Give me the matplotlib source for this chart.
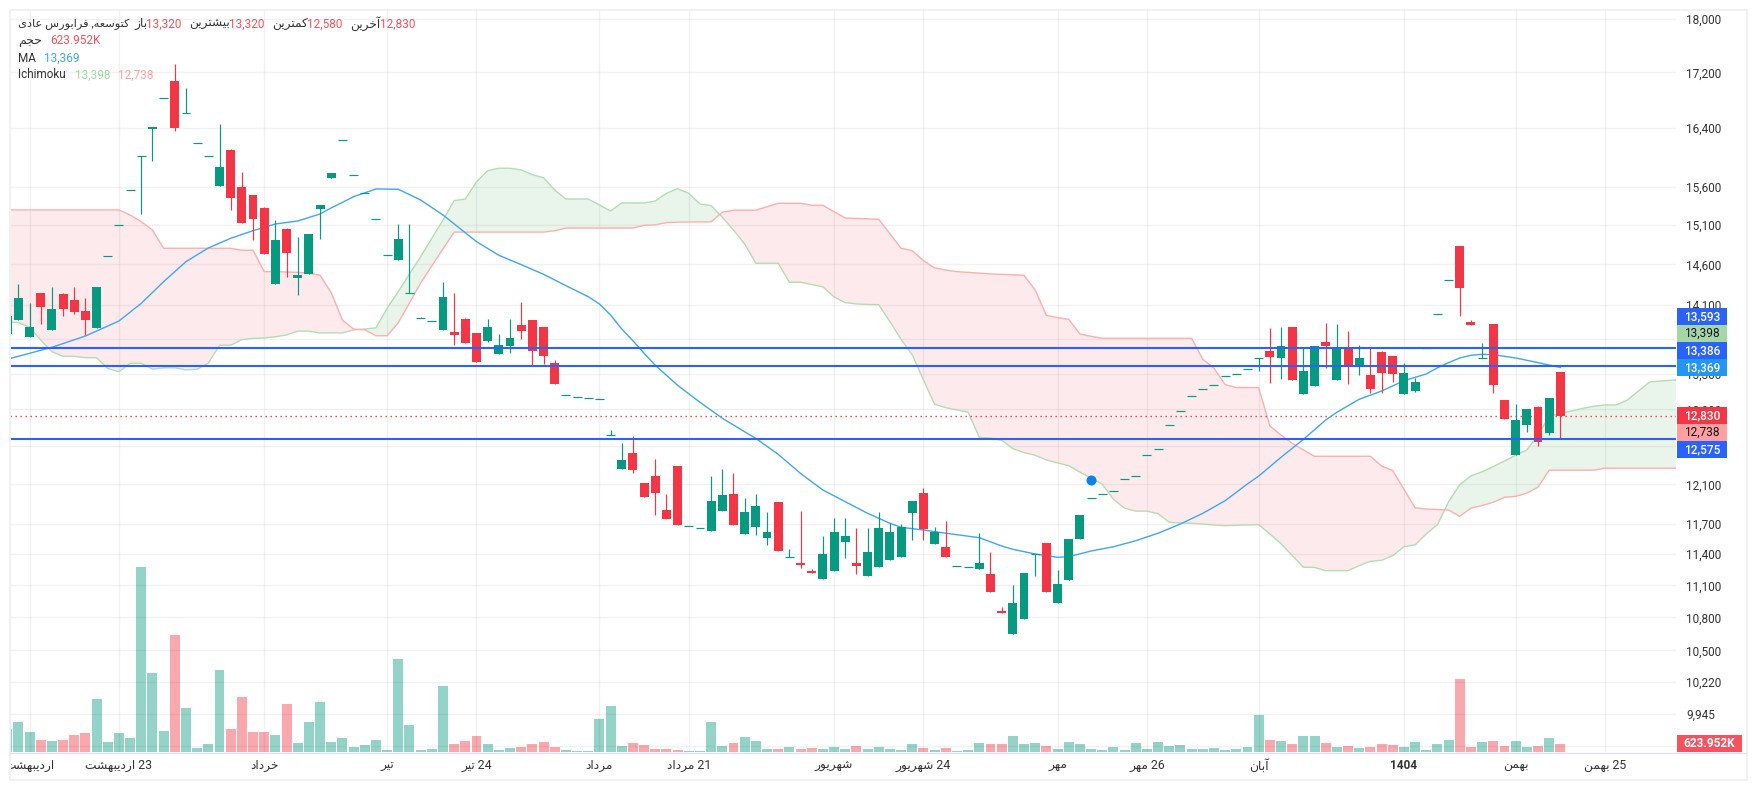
import matplotlib
matplotlib.use("Agg")
import matplotlib.pyplot as plt
from matplotlib.patches import Rectangle
from matplotlib.ticker import NullLocator, FixedLocator
from matplotlib.transforms import Bbox
import numpy as np

plt.rcParams['font.family'] = ['Roboto', 'DejaVu Sans']

# ---------- data ----------
opens = [13757,13922,13721,14247,13804,14235,14162,14029,13827,14701,15095,15553,16010,16388,16823,17072,16610,16188,16010,15610,
16096,15597,15489,15319,14357,15048,14431,14480,15307,15716,16230,15752,15512,15172,14713,14654,14244,13942,13906,13804,
13780,13934,13768,13674,13524,13617,13862,13922,13838,13420,13055,13033,13022,13011,12622,12260,12427,12113,12185,11838,
12292,11674,11654,11624,11828,12000,11597,11668,11557,11919,11375,11313,11236,11160,11236,11518,11313,11189,11275,11343,
11372,11808,12010,11499,11470,11282,11272,11255,11208,10860,10647,10786,11401,11509,10934,11151,11548,11956,11997,12027,
12150,12181,12404,12468,12726,12880,13044,13122,13168,13270,13293,13351,13475,13559,13478,13838,13070,13160,13663,13227,
13582,13386,13283,13547,13501,13070,13104,13593,13992,14402,14829,13898,13478,13875,13003,12407,12729,12926,12644,13320]
highs = [13970,14357,14126,14247,14320,14247,14320,14186,14320,14701,15095,15553,16010,16412,16823,17322,16970,16188,16010,16458,
16110,15798,15489,15332,15163,15060,14944,14982,15359,15783,16230,15752,15512,15172,14713,15112,15112,13955,13906,14382,
14247,13946,13768,13934,13757,13934,14138,13922,13838,13455,13055,13033,13022,13011,12671,12535,12610,12113,12364,12000,
12292,11674,11654,12185,12260,12218,11959,12000,11818,11919,11450,11828,11256,11577,11757,11757,11656,11656,11818,11708,
11698,11929,12062,11668,11727,11282,11272,11606,11421,10895,11104,11218,11401,11509,11246,11548,11788,11956,11997,12027,
12150,12181,12404,12468,12726,12880,13044,13122,13168,13270,13293,13351,13475,13827,13838,13838,13593,13617,13886,13875,
13792,13628,13593,13559,13501,13420,13249,13593,13992,14402,14829,13922,13651,13875,13003,12959,12904,12937,13025,13320]
lows = [13757,13922,13721,13875,13804,13970,13993,13745,13827,14701,15095,15553,15241,15945,16823,16360,16610,16188,16010,15610,
15293,15124,14906,14729,14357,14443,14223,14480,14919,15716,16230,15752,15512,15172,14713,14654,14244,13942,13906,13804,
13628,13651,13432,13663,13524,13535,13698,13386,13409,13182,13055,13033,13022,13011,12622,12260,12218,11969,11788,11747,
11688,11674,11654,11624,11828,11688,11597,11587,11489,11431,11375,11265,11218,11160,11236,11362,11208,11189,11275,11343,
11372,11538,11538,11499,11372,11282,11272,11255,11037,10842,10647,10786,11189,11037,10934,11151,11548,11956,11997,12027,
12150,12181,12404,12468,12726,12880,13044,13122,13168,13270,13293,13351,13328,13193,13238,13227,13070,13160,13362,13227,
13182,13283,13082,13082,13204,13070,13093,13593,13992,14402,13970,13862,13478,13082,12794,12407,12655,12503,12623,12580]
closes = [13970,14186,13838,14077,14053,14053,14017,13922,14320,14701,15095,15553,16010,16412,16823,16402,16610,16188,16010,15864,
15450,15124,15176,14729,14906,14741,14468,14982,15359,15783,16230,15752,15512,15172,14713,14919,14244,13942,13906,14198,
13745,13651,13432,13838,13628,13710,13792,13559,13501,13182,13055,13033,13022,13011,12622,12354,12249,11969,12010,11747,
11688,11674,11654,11929,11990,11688,11818,11878,11616,11431,11375,11294,11218,11401,11616,11577,11285,11421,11656,11616,
11668,11929,11646,11616,11372,11282,11272,11313,11037,10842,10934,11218,11401,11037,11113,11548,11788,11956,11997,12027,
12150,12181,12404,12468,12726,12880,13044,13122,13168,13270,13293,13351,13475,13490,13617,13227,13328,13617,13617,13605,
13386,13478,13126,13305,13293,13305,13204,13593,13992,14402,14308,13862,13478,13171,12794,12783,12904,12545,13025,12830]
volumes_k = [1725,2250,1500,900,825,900,1275,1425,3975,750,1425,1050,13875,5925,1575,8775,3300,300,600,6150,
1725,4125,1500,1500,1275,3600,675,2250,3750,750,1050,375,525,900,150,6975,2025,150,225,4950,
600,825,1200,600,150,300,375,600,750,375,150,75,75,2475,3450,450,675,525,225,225,
150,75,75,2250,450,675,1125,825,225,225,375,225,300,225,375,225,450,225,375,225,
150,600,300,150,300,75,150,675,600,600,1200,600,675,450,225,750,600,225,150,375,
150,675,225,750,450,525,225,225,300,150,225,375,2775,900,825,600,1200,1200,675,375,
450,300,375,600,525,375,750,150,600,900,5475,375,750,825,450,825,375,450,1050,623.952]

ma_index = [0,4,7,10,12,14,16,18,20,22,24,26,28,29,31,33,35,37,39,42,44,46,48,50,52,53,54,55,56,57,58,60,62,64,66,67,69,71,73,75,77,79,80,
82,84,87,89,90,92,94,95,97,99,101,103,105,107,109,111,112,114,116,118,119,121,123,125,127,128,129,130,131,132,133,135,137,139]
ma_values = [13463,13601,13733,13910,14122,14385,14633,14805,14928,15025,15111,15150,15241,15320,15467,15570,15566,15424,15228,14885,14713,14596,14476,14336,14202,14114,13982,13815,13678,13532,13394,13167,12978,12802,12655,12584,12414,12213,12041,11922,11804,11704,11664,
11637,11605,11561,11479,11447,11401,11369,11375,11430,11472,11531,11605,11697,11804,11932,12104,12185,12382,12573,12783,12868,13011,13103,13219,13295,13365,13425,13478,13509,13520,13516,13478,13425,13369]

span_a = [13898,13890,13838,13686,13551,13497,13497,13481,13481,13357,13320,13417,13417,13351,13365,13365,13341,13349,13417,13625,
13625,13690,13706,13710,13725,13745,13790,13790,13769,13769,13769,13804,13815,13830,14062,14264,14480,14695,14928,15163,
15415,15437,15666,15816,15848,15848,15825,15761,15720,15556,15437,15437,15437,15359,15280,15385,15385,15385,15411,15512,
15574,15512,15372,15350,15198,15034,14855,14613,14613,14613,14378,14378,14349,14321,14199,14130,14114,14108,14105,13902,
13694,13513,13227,12956,12918,12893,12868,12595,12587,12563,12474,12432,12404,12354,12323,12295,12226,12166,12101,11946,
11856,11826,11826,11800,11714,11707,11704,11697,11687,11680,11684,11687,11690,11598,11502,11387,11273,11271,11240,11240,
11240,11288,11330,11340,11385,11473,11489,11598,11690,11922,12097,12188,12230,12285,12343,12404,12460,12620,12820,12857,
12882,12910,12934,12948,12948,13003,13103,13205,13216,13224,13233]
span_b = [15294,15294,15294,15294,15294,15294,15294,15294,15294,15294,15294,15228,15141,15034,14801,14801,14801,14801,14801,14801,
14801,14776,14776,14509,14509,14505,14500,14490,14464,14250,13922,13814,13806,13736,13736,13890,14126,14369,14580,14793,
15007,15007,15007,15007,15007,15007,15007,15007,15007,15024,15059,15059,15059,15059,15059,15059,15059,15094,15100,15129,
15135,15137,15138,15139,15264,15290,15290,15290,15335,15381,15381,15381,15355,15355,15270,15189,15183,15177,15172,14985,
14801,14771,14645,14555,14530,14509,14500,14490,14481,14475,14470,14464,14283,13978,13950,13930,13757,13730,13706,13706,
13706,13706,13706,13706,13706,13706,13706,13463,13361,13175,13142,13142,13142,12719,12620,12532,12460,12393,12393,12393,
12393,12393,12393,12291,12243,12050,11860,11847,11842,11837,11774,11856,11883,11916,11966,11976,12009,12070,12247,12247,
12247,12247,12247,12268,12268,12268,12268,12268,12268,12268,12268]

h_levels = [13593, 13386, 12575]
last_close = 12830
marker_index = 97
marker_value = 12148

y_ticks = [18000,17200,16400,15600,15100,14600,14100,13700,13300,12900,12500,12100,11700,11400,11100,10800,10500,10220,9945,9680]
y_hidden = [13700, 12500, 9680]   # fully covered by the price tags in the reference
x_tick_index = [2,10,23,34,42,53,61,74,82,94,102,112,125,135,143]
x_tick_words = ["اردیبهشت","اردیبهشت","خرداد","تیر","تیر","مرداد","مرداد","شهریور","شهریور","مهر","مهر","آبان","1404","بهمن","بهمن"]
x_tick_days = ["","23","","","24","","21","","24","","26","","","","25"]

tag_values = ["13,593","13,398","13,386","13,369","12,830","12,738","12,575"]
tag_colors = ["#2962FF","#A5D6A7","#2962FF","#2196F3","#F23645","#FF9F9F","#2962FF"]
tag_text = ["white","#131722","white","white","white","#131722","white"]

# ---------- Persian shaping (matplotlib has no bidi/joining) ----------
FORMS = {
 'ا':(0xFE8D,0xFE8E,None,None),'آ':(0xFE81,0xFE82,None,None),'د':(0xFEA9,0xFEAA,None,None),
 'ر':(0xFEAD,0xFEAE,None,None),'ز':(0xFEAF,0xFEB0,None,None),'و':(0xFEED,0xFEEE,None,None),
 'ب':(0xFE8F,0xFE90,0xFE91,0xFE92),'ت':(0xFE95,0xFE96,0xFE97,0xFE98),'ج':(0xFE9D,0xFE9E,0xFE9F,0xFEA0),
 'ح':(0xFEA1,0xFEA2,0xFEA3,0xFEA4),'خ':(0xFEA5,0xFEA6,0xFEA7,0xFEA8),'س':(0xFEB1,0xFEB2,0xFEB3,0xFEB4),
 'ش':(0xFEB5,0xFEB6,0xFEB7,0xFEB8),'ع':(0xFEC9,0xFECA,0xFECB,0xFECC),'ف':(0xFED1,0xFED2,0xFED3,0xFED4),
 'ک':(0xFB8E,0xFB8F,0xFB90,0xFB91),'م':(0xFEE1,0xFEE2,0xFEE3,0xFEE4),'ن':(0xFEE5,0xFEE6,0xFEE7,0xFEE8),
 'ه':(0xFEE9,0xFEEA,0xFEEB,0xFEEC),'ی':(0xFBFC,0xFBFD,0xFBFE,0xFBFF),
}
def fa(s):
    out = []
    for k, ch in enumerate(s):
        if ch not in FORMS:
            out.append(ch); continue
        prev = s[k-1] if k > 0 else ''
        nxt = s[k+1] if k+1 < len(s) else ''
        joins_prev = prev in FORMS and FORMS[prev][2] is not None
        joins_next = nxt in FORMS and FORMS[ch][2] is not None
        f = FORMS[ch]
        cp = f[3] if joins_prev and joins_next else f[1] if joins_prev else f[2] if joins_next else f[0]
        out.append(chr(cp))
    return ''.join(reversed(out))

# ---------- figure ----------
W, H = 1757, 790
fig = plt.figure(figsize=(W/100, H/100), dpi=100, facecolor='white')
L, R, T, B = 10, 1676, 10, 752
pos = [L/W, 1-B/H, (R-L)/W, (B-T)/H]
ax_vol = fig.add_axes(pos, zorder=1)
ax = fig.add_axes(pos, zorder=2, sharex=ax_vol)
ax.patch.set_visible(False)
over = fig.add_axes([0,0,1,1], zorder=5)
over.set_xlim(0,W); over.set_ylim(H,0); over.axis('off'); over.patch.set_visible(False)

GREEN, RED = '#089981', '#F23645'
idx = np.arange(len(opens))
o, h, l, c = map(np.array, (opens, highs, lows, closes))
up = c >= o
colors = np.where(up, GREEN, RED)

# volume
ax_vol.bar(idx, volumes_k, width=0.89, color=colors, alpha=0.43, linewidth=0)
ax_vol.set_ylim(0, 55650)
ax_vol.set_yticks([])
ax_vol.tick_params(axis='x', length=0, labelbottom=False)
for s in ax_vol.spines.values(): s.set_visible(False)
ax_vol.patch.set_visible(False)

# price
ax.set_yscale('log')
ax.set_xlim(0.2506, 149.35)
ax.set_ylim(9628, 18140)
for s in ax.spines.values(): s.set_visible(False)
ax.yaxis.tick_right()
ax.yaxis.set_major_locator(FixedLocator(y_ticks))
ax.yaxis.set_minor_locator(NullLocator())
ax.set_yticklabels(["" if v in y_hidden else f"{v:,}" for v in y_ticks])
ax.tick_params(axis='y', length=0, pad=7.2, labelsize=8.5, labelcolor='#333333')
ax.set_xticks(x_tick_index)
labels = [f"{fa(w)} {d}".strip() if w != "1404" else w for w, d in zip(x_tick_words, x_tick_days)]
ax.set_xticklabels(labels)
ax.tick_params(axis='x', length=0, pad=5.2, labelsize=8.8, labelcolor='#333333')
clip = Bbox([[L, 0], [W, H]])
for t, w in zip(ax.get_xticklabels(), x_tick_words):
    if w == "1404":
        t.set_fontweight('bold')
        t.set_fontsize(8.5)
    t.set_clip_on(True)
    t.set_clip_box(clip)
ax.grid(True, axis='y', color='#000000', alpha=0.05, lw=1, zorder=0)
ax.grid(True, axis='x', color='#000000', alpha=0.055, lw=1, zorder=0)
ax.set_axisbelow(True)

# Ichimoku
span_x = np.arange(len(span_a))
a_arr, b_arr = np.array(span_a, float), np.array(span_b, float)
ax.fill_between(span_x, a_arr, b_arr, where=a_arr >= b_arr, interpolate=True, color='#43A047', alpha=0.115, lw=0, zorder=1)
ax.fill_between(span_x, a_arr, b_arr, where=a_arr <= b_arr, interpolate=True, color='#F23645', alpha=0.1, lw=0, zorder=1)
ax.plot(span_x, a_arr, color='#B5DCB6', lw=1.0, zorder=2)
ax.plot(span_x, b_arr, color='#FBB0B0', lw=1.0, zorder=2)

# levels
ax.axhline(last_close, color=RED, lw=1, ls=(0, (1, 2.6)), zorder=2.5)

# MA
ax.plot(ma_index, ma_values, color='#42A5F5', lw=1.0, zorder=3)

# candles
ax.vlines(idx, l, h, colors=colors, lw=0.85, zorder=4)
body = o != c
ax.bar(idx[body], np.abs(c-o)[body], bottom=np.minimum(o, c)[body], width=0.8, color=colors[body], linewidth=0, zorder=5)
ax.hlines(c[~body], idx[~body]-0.4, idx[~body]+0.4, colors=colors[~body], lw=0.85, zorder=5)

for v in h_levels:
    ax.axhline(v, color='#2962FF', lw=1.5, zorder=6)

ax.plot([marker_index], [marker_value], 'o', ms=6.2, color='#0A84E8', mec='#0A84E8', zorder=7)

# ---------- chrome: frame, header, tags ----------
over.add_patch(Rectangle((9.5, 9.5), 1737, 770, fill=False, ec='#F0F0F5', lw=1.4))
over.plot([10, 1746], [752.5, 752.5], color='#E0E3EB', lw=1)

def txt(x, y, s, color='#333333', size=8.5, **kw):
    over.text(x, y, s, color=color, fontsize=size, va='center', ha=kw.pop('ha', 'left'), **kw)

NUM = '#F7525F'
txt(18, 24, fa("کتوسعه, فرابورس عادی"), size=8.2)
for xl, lab, xn, val in [(134, "باز", 146, "13,320"), (189, "بیشترین", 229, "13,320"),
                         (272, "کمترین", 307, "12,580"), (350, "آخرین", 380, "12,830")]:
    txt(xl, 24, fa(lab), size=8.7)
    txt(xn, 24, val, NUM)
txt(18, 41, fa("حجم"), size=8.9)
txt(50, 41, "623.952K", NUM)
txt(18, 58, "MA")
txt(44, 58, "13,369", '#42A5F5')
txt(18, 75, "Ichimoku")
txt(75, 75, "13,398", '#A5D6A7')
txt(118, 75, "12,738", '#FFA5A5')

tag_tops = [308, 325, 342, 359, 407, 424, 441]
for top, s, col, tc in zip(tag_tops, tag_values, tag_colors, tag_text):
    over.add_patch(Rectangle((1677, top), 50, 17, fc=col, ec='none'))
    over.text(1702, top+8.7, s, color=tc, fontsize=8.6, ha='center', va='center',
              fontweight='medium' if tc == 'white' else 'normal')
over.add_patch(Rectangle((1677, 735), 65, 17, fc='#F7525F', ec='none'))
over.text(1709.5, 743.7, "623.952K", color='white', fontsize=8.6, ha='center', va='center', fontweight='bold')

fig.savefig('out.png', dpi=100)
